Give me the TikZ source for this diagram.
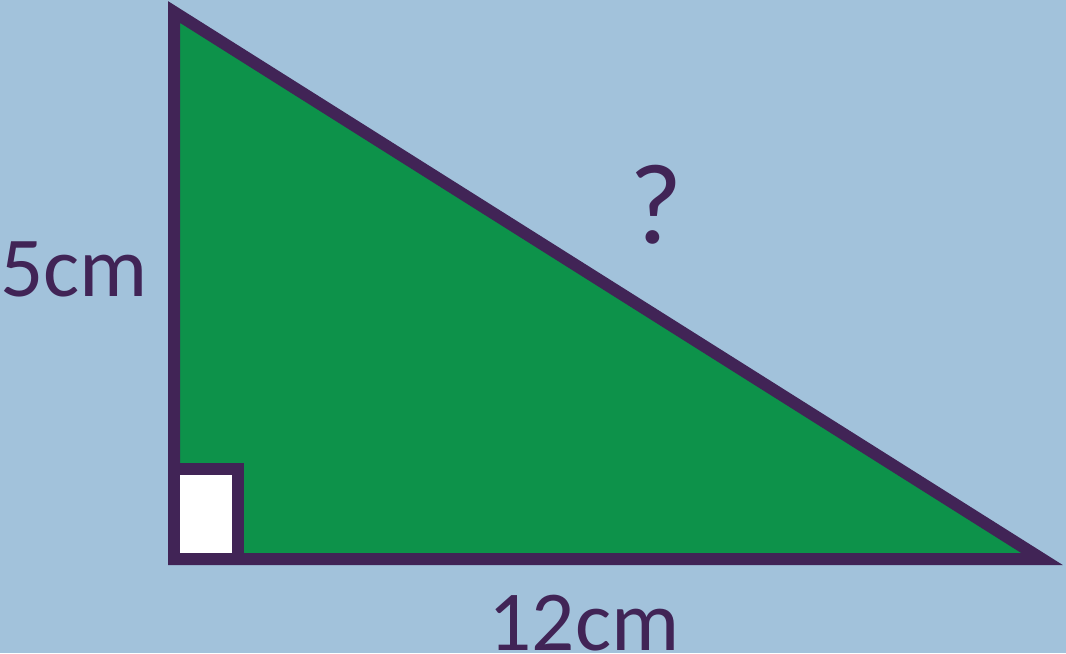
\documentclass[tikz,border=0pt]{standalone}
\usepackage{fontspec}
\setmainfont{Carlito}
\usepackage{xcolor}
\definecolor{bgblue}{RGB}{162,194,219}
\definecolor{trigreen}{RGB}{13,146,74}
\definecolor{edgepurple}{RGB}{65,36,86}

\begin{document}
\begin{tikzpicture}[x=0.75pt,y=-0.75pt,font=\fontsize{64}{64}\selectfont,line join=miter]
\fill[bgblue] (0,0) rectangle (1066,653);
\useasboundingbox (0,0) rectangle (1066,653);
\coordinate (top) at (174,12);
\coordinate (corner) at (174,559);
\coordinate (right) at (1042,559);
\draw[edgepurple,fill=trigreen,line width=9pt] (top) -- (corner) -- (right) -- cycle;
\draw[edgepurple,fill=white,line width=9pt] (corner) rectangle (238,469);
\node[edgepurple] (side) at (74,269) {5cm};
\node[edgepurple] (base) at (584,623) {12cm};
\node[edgepurple,font=\fontsize{86}{86}\selectfont] (hyp) at (656,205) {?};
\end{tikzpicture}
\end{document}
